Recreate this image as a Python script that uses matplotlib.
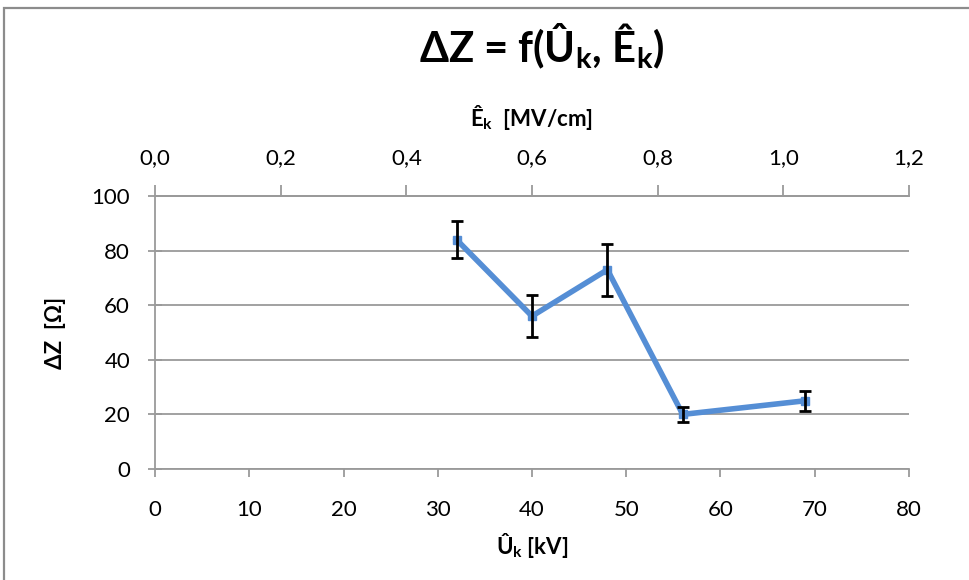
import matplotlib
matplotlib.use('Agg')
import matplotlib.pyplot as plt
import matplotlib.ticker as ticker
from matplotlib.patches import Rectangle

# measured peak voltage [kV], impedance change [Ohm] and its spread
u_k = [32, 40, 48, 56, 69]
dz = [84, 56, 73, 20, 25]
dz_err = [6.8, 7.8, 9.5, 2.8, 3.7]

x_ticks = [0, 10, 20, 30, 40, 50, 60, 70, 80]
e_ticks = [0.0, 0.2, 0.4, 0.6, 0.8, 1.0, 1.2]
y_ticks = [0, 20, 40, 60, 80, 100]

FONT = 'Lato'
plt.rcParams['font.family'] = FONT
plt.rcParams['mathtext.fontset'] = 'custom'
plt.rcParams['mathtext.rm'] = FONT
plt.rcParams['mathtext.bf'] = FONT + ':bold'
plt.rcParams['mathtext.it'] = FONT + ':italic'

GRID = '#9a9a9a'
LINE = '#558ed5'

fig = plt.figure(figsize=(9.69, 5.8), dpi=100)
ax = fig.add_axes([0.16, 0.1914, 0.778, 0.4706])

# chart frame (only top and left edge inside the image)
fig.patches.append(Rectangle((4 / 969, -0.1), 1.2, (572 / 580) + 0.1,
                             transform=fig.transFigure, fill=False,
                             edgecolor='#8c8c8c', linewidth=1.6))

ax.plot(u_k, dz, '-s', color=LINE, linewidth=4, markersize=6, zorder=3)
ax.errorbar(u_k, dz, yerr=dz_err, fmt='none', ecolor='black',
            elinewidth=2, capsize=4.5, capthick=2, zorder=4)

ax.set_xlim(0, 80)
ax.set_ylim(0, 100)
ax.set_xticks(x_ticks)
ax.set_yticks(y_ticks)
ax.yaxis.grid(True, color=GRID, linewidth=1.3)
ax.set_axisbelow(True)
ax.spines['right'].set_visible(False)
for side in ['left', 'bottom', 'top']:
    ax.spines[side].set_color(GRID)
    ax.spines[side].set_linewidth(1.3)
ax.tick_params(axis='x', direction='out', length=6, width=1.3, color=GRID,
               labelsize=16, pad=16)
ax.tick_params(axis='y', direction='inout', length=10, width=1.3, color=GRID,
               labelsize=16, pad=13)
ax.set_xlabel('Û$_\\mathbf{k}$ [kV]', fontsize=16, fontweight='bold', labelpad=8)
ax.set_ylabel('ΔZ  [Ω]', fontsize=16, fontweight='bold', labelpad=18)

# secondary field-strength axis on top
ax2 = ax.twiny()
ax2.set_xlim(0, 1.2)
ax2.set_xticks(e_ticks)
ax2.xaxis.set_major_formatter(
    ticker.FuncFormatter(lambda v, _: f'{v:.1f}'.replace('.', ',')))
for side in ['right', 'left', 'bottom']:
    ax2.spines[side].set_visible(False)
ax2.spines['top'].set_color(GRID)
ax2.spines['top'].set_linewidth(1.3)
ax2.tick_params(axis='x', direction='out', length=8, width=1.3, color=GRID,
                labelsize=16, pad=12)
ax2.set_xlabel('Ê$_\\mathbf{k}$  [MV/cm]', fontsize=16, fontweight='bold',
               labelpad=16)

fig.text(542 / 969, 1 - 46 / 580, 'ΔZ = f(Û$_\\mathbf{k}$, Ê$_\\mathbf{k}$)',
         ha='center', va='center', fontsize=30, fontweight='bold')

fig.savefig('out.png', dpi=100)
